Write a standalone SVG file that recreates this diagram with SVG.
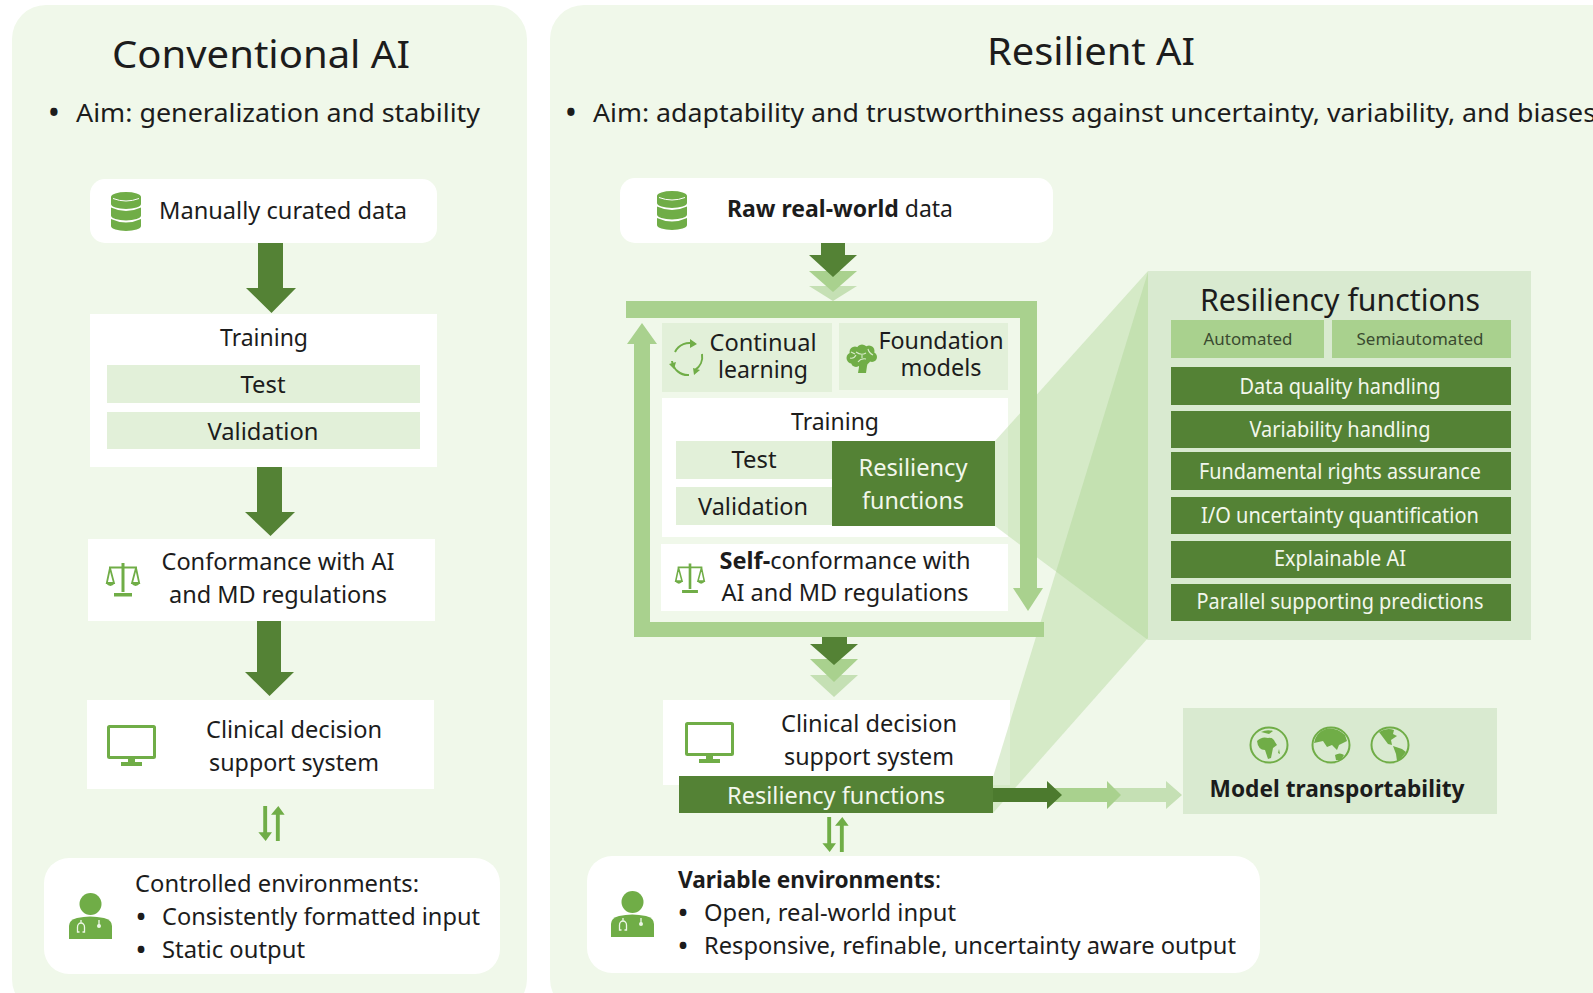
<svg xmlns="http://www.w3.org/2000/svg" width="1593" height="993" viewBox="0 0 1593 993">
<style>
text{font-family:"Noto Sans","Open Sans","Liberation Sans",sans-serif;fill:#1c1c1c;font-size:24px;text-anchor:middle}
.s{text-anchor:start}
.h{font-size:38px}
.aim{font-size:26px;text-anchor:start}
.bu{font-weight:700;text-anchor:middle}
.w{fill:#f2f7ec}
.f{fill:#f2f7ec;font-size:21px}
.sm{font-size:17px;fill:#3a4a30}
.b{font-weight:700}
.panel{fill:#f0f8ea}
.white{fill:#fff}
.pale{fill:#e2f0d9}
.box{fill:#d9ead0}
.mid{fill:#a9d18e}
.lite{fill:#c5e0b4}
.dark{fill:#548235}
.icon{fill:#70ad47}
.ln{fill:none;stroke:#70ad47}
</style>
<defs>
<symbol id="db" viewBox="0 0 30 39" overflow="visible"><path class="icon" d="M0 5a15 5 0 0 1 30 0v7a15 5 0 0 1-30 0zM0 15.500q15 7 30 0v8a15 5 0 0 1-30 0zM0 27q15 7 30 0v7a15 5 0 0 1-30 0z"/><path d="M2 6.500q13 5 26 0" fill="none" stroke="#fff" stroke-width="1"/></symbol>
<symbol id="scale" viewBox="0 0 34 35" overflow="visible"><path class="icon" d="M15.500 1h3v29h-3zM8 31h18v3.500H8zM3 4.500h28v2H3z"/><path class="ln" stroke-width="1.800" d="M4 6 0.800 21h7.200zM30 6 26 21h7.200zM0.800 21q3.600 4 7.200 0M26 21q3.600 4 7.200 0"/></symbol>
<symbol id="monitor" viewBox="0 0 49 41" overflow="visible"><rect class="ln" x="1.500" y="1.500" width="46" height="31" rx="1" stroke-width="3"/><path class="icon" d="M21 33h7v4h-7zM14 37h21v4H14z"/></symbol>
<symbol id="doc" viewBox="0 0 43 46" overflow="visible"><circle class="icon" cx="21.500" cy="11" r="11"/><path class="icon" d="M0 46V33q0-6 8-8 13-3 27 0 8 2 8 8v13z"/><path d="M12 27v3a3.500 4 0 0 0-3.500 4v5h2M12 30a3.500 4 0 0 1 3.500 4v5h-2M30 27v5" fill="none" stroke="#eef7e8" stroke-width="1.300"/><circle cx="30" cy="33" r="2" fill="#eef7e8"/></symbol>
<symbol id="g1" viewBox="0 0 40 38" overflow="visible"><ellipse class="ln" cx="20" cy="19" rx="18.500" ry="17.500" stroke-width="2"/><path class="icon" d="M8 15q5-5 11-3 5-1 7 4l2 3-4 3-2 10-3 1-3-9q-7 0-8-9zM12 6q6-3 12-1l-4 3zM29 27l1-4 1 5z"/></symbol>
<symbol id="g2" viewBox="0 0 40 38" overflow="visible"><ellipse class="ln" cx="20" cy="19" rx="18.500" ry="17.500" stroke-width="2"/><path class="icon" d="M3 17Q5 6 15 3q10-2 19 6l2 6-8 4-2 5-5-5-5 2-4-6zM24 29q5-3 9 0l-3 5h-5z"/></symbol>
<symbol id="g3" viewBox="0 0 40 38" overflow="visible"><ellipse class="ln" cx="20" cy="19" rx="18.500" ry="17.500" stroke-width="2"/><path class="icon" d="M9 6q8-5 15-2l-1 4 4 2-6 4 1 5-4-1-3-4zM23 20l9 3 4 3-6 8-3 1-1-7z"/></symbol>
<symbol id="updown" viewBox="0 0 27 36" overflow="visible"><path class="icon" d="M5 0h4v27h5l-6.500 9L0 27h5zM18 36h4V9h5l-6.500-9L13 9h5z"/></symbol>
</defs>

<rect class="panel" x="12" y="5" width="515" height="1008" rx="34"/>
<rect class="panel" x="550" y="5" width="1100" height="1008" rx="34"/>

<g id="titles">
<text class="h" x="261" y="68" textLength="298" lengthAdjust="spacingAndGlyphs">Conventional AI</text>
<text class="h" x="1091" y="65" textLength="208" lengthAdjust="spacingAndGlyphs">Resilient AI</text>
<text class="bu" style="font-size:26px" x="54" y="122">•</text>
<text class="aim" x="76" y="122" textLength="404" lengthAdjust="spacingAndGlyphs">Aim: generalization and stability</text>
<text class="bu" style="font-size:26px" x="571" y="122">•</text>
<text class="aim" x="593" y="122" textLength="1003" lengthAdjust="spacingAndGlyphs">Aim: adaptability and trustworthiness against uncertainty, variability, and biases</text>
</g>

<g id="conv-data"><rect class="white" x="90" y="179" width="347" height="64" rx="15"/><use href="#db" x="111" y="192" width="30" height="39"/><text class="s" x="159" y="219" textLength="248" lengthAdjust="spacingAndGlyphs">Manually curated data</text></g>
<g id="conv-training"><rect class="white" x="90" y="314" width="347" height="153"/><rect class="pale" x="107" y="365" width="313" height="38"/><rect class="pale" x="107" y="412" width="313" height="37"/>
<text x="264" y="346" textLength="88" lengthAdjust="spacingAndGlyphs">Training</text><text x="263" y="393" textLength="45" lengthAdjust="spacingAndGlyphs">Test</text><text x="263" y="440" textLength="111" lengthAdjust="spacingAndGlyphs">Validation</text></g>
<g id="conv-conformance"><rect class="white" x="88" y="539" width="347" height="82"/><use href="#scale" x="106" y="562" width="34" height="35"/><text x="278" y="570" textLength="233" lengthAdjust="spacingAndGlyphs">Conformance with AI</text><text x="278" y="603" textLength="218" lengthAdjust="spacingAndGlyphs">and MD regulations</text></g>
<g id="conv-cdss"><rect class="white" x="87" y="700" width="347" height="89"/><use href="#monitor" x="107" y="725" width="49" height="41"/><text x="294" y="738" textLength="176" lengthAdjust="spacingAndGlyphs">Clinical decision</text><text x="294" y="771" textLength="170" lengthAdjust="spacingAndGlyphs">support system</text></g>
<g id="conv-env"><rect class="white" x="44" y="858" width="456" height="116" rx="25"/><use href="#doc" x="69" y="893" width="43" height="46"/>
<text class="s" x="135" y="892" textLength="284" lengthAdjust="spacingAndGlyphs">Controlled environments:</text>
<text class="bu" x="141" y="925">•</text><text class="s" x="162" y="925" textLength="318" lengthAdjust="spacingAndGlyphs">Consistently formatted input</text>
<text class="bu" x="141" y="958">•</text><text class="s" x="162" y="958" textLength="143" lengthAdjust="spacingAndGlyphs">Static output</text></g>

<g id="res-data"><rect class="white" x="620" y="178" width="433" height="65" rx="15"/><use href="#db" x="657" y="191" width="30" height="39"/><text class="s" x="727" y="217" textLength="226" lengthAdjust="spacingAndGlyphs"><tspan class="b">Raw real-world</tspan> data</text></g>
<g id="res-training-bg"><rect class="white" x="662" y="398" width="346" height="139"/></g>
<g id="res-cdss-bg"><rect class="white" x="663" y="700" width="347" height="85"/></g>
<g id="wedges"><path d="M995 441 1148 271V640L995 526z" fill="#a9d18e" opacity=".38"/><path d="M993 777 1148 272V638L993 813z" fill="#a9d18e" opacity=".38"/></g>
<g id="res-continual"><rect class="pale" x="662" y="323" width="170" height="69"/>
<path class="ln" stroke-width="2" d="M675 352a16 16 0 0 1 20-8M702 354a16 16 0 0 1-7 16M689 375a16 16 0 0 1-17-14"/><path class="icon" d="M690 339l7 5-7 4zM700 370l-7-2 1 7zM669 364l7-2-2 7z"/>
<text x="763" y="351" textLength="107" lengthAdjust="spacingAndGlyphs">Continual</text><text x="763" y="378" textLength="90" lengthAdjust="spacingAndGlyphs">learning</text></g>
<g id="res-foundation"><rect class="pale" x="839" y="323" width="169" height="67"/>
<g class="icon"><circle cx="852" cy="358" r="5.500"/><circle cx="855" cy="352" r="5.500"/><circle cx="862" cy="350" r="5.500"/><circle cx="869" cy="351" r="5.500"/><circle cx="872" cy="357" r="5"/><circle cx="864" cy="358" r="7"/><circle cx="856" cy="362" r="5"/><path d="M859 362h9l-1 4-1 7h-8l1-6z"/></g>
<path d="M850 358q4 1 6-3M856 352q5 4 10 1M858 362q3-4 8-3M868 349q1 4 5 6M862 355v3M851 352l4 2" fill="none" stroke="#d8ebcb" stroke-width="1.100"/>
<text x="941" y="349" textLength="125" lengthAdjust="spacingAndGlyphs">Foundation</text><text x="941" y="376" textLength="81" lengthAdjust="spacingAndGlyphs">models</text></g>
<g id="res-training"><rect class="pale" x="676" y="441" width="156" height="38"/><rect class="pale" x="676" y="487" width="156" height="38"/><rect class="dark" x="832" y="441" width="163" height="85"/>
<text x="835" y="430" textLength="88" lengthAdjust="spacingAndGlyphs">Training</text><text x="754" y="468" textLength="45" lengthAdjust="spacingAndGlyphs">Test</text><text x="753" y="515" textLength="110" lengthAdjust="spacingAndGlyphs">Validation</text>
<text class="w" x="913" y="476" textLength="109" lengthAdjust="spacingAndGlyphs">Resiliency</text><text class="w" x="913" y="509" textLength="102" lengthAdjust="spacingAndGlyphs">functions</text></g>
<g id="res-conformance"><rect class="white" x="661" y="544" width="347" height="67"/><use href="#scale" x="675" y="562" width="30" height="32"/>
<text x="845" y="569" textLength="251" lengthAdjust="spacingAndGlyphs"><tspan class="b">Self-</tspan>conformance with</text><text x="845" y="601" textLength="247" lengthAdjust="spacingAndGlyphs">AI and MD regulations</text></g>
<g id="res-cdss"><use href="#monitor" x="685" y="722" width="49" height="41"/><text x="869" y="732" textLength="176" lengthAdjust="spacingAndGlyphs">Clinical decision</text><text x="869" y="765" textLength="170" lengthAdjust="spacingAndGlyphs">support system</text>
<rect class="dark" x="679" y="776" width="314" height="37"/><text class="w" x="836" y="804" textLength="218" lengthAdjust="spacingAndGlyphs">Resiliency functions</text></g>
<g id="res-env"><rect class="white" x="587" y="856" width="673" height="117" rx="25"/><use href="#doc" x="611" y="891" width="43" height="46"/>
<text class="s" x="678" y="888" textLength="263" lengthAdjust="spacingAndGlyphs"><tspan class="b">Variable environments</tspan>:</text>
<text class="bu" x="683" y="921">•</text><text class="s" x="704" y="921" textLength="252" lengthAdjust="spacingAndGlyphs">Open, real-world input</text>
<text class="bu" x="683" y="954">•</text><text class="s" x="704" y="954" textLength="532" lengthAdjust="spacingAndGlyphs">Responsive, refinable, uncertainty aware output</text></g>

<g id="res-functions"><rect class="box" x="1148" y="271" width="383" height="369"/>
<text x="1340" y="311" style="font-size:31px" textLength="280" lengthAdjust="spacingAndGlyphs">Resiliency functions</text>
<rect class="mid" x="1171" y="320" width="153" height="38"/><rect class="mid" x="1332" y="320" width="179" height="38"/>
<text class="sm" x="1248" y="345" textLength="89" lengthAdjust="spacingAndGlyphs">Automated</text><text class="sm" x="1420" y="345" textLength="127" lengthAdjust="spacingAndGlyphs">Semiautomated</text>
<rect class="dark" x="1171" y="367" width="340" height="38"/><text class="f" x="1340" y="394" textLength="201" lengthAdjust="spacingAndGlyphs">Data quality handling</text>
<rect class="dark" x="1171" y="411" width="340" height="37"/><text class="f" x="1340" y="437" textLength="181" lengthAdjust="spacingAndGlyphs">Variability handling</text>
<rect class="dark" x="1171" y="452" width="340" height="38"/><text class="f" x="1340" y="479" textLength="282" lengthAdjust="spacingAndGlyphs">Fundamental rights assurance</text>
<rect class="dark" x="1171" y="497" width="340" height="37"/><text class="f" x="1340" y="523" textLength="278" lengthAdjust="spacingAndGlyphs">I/O uncertainty quantification</text>
<rect class="dark" x="1171" y="541" width="340" height="37"/><text class="f" x="1340" y="566" textLength="132" lengthAdjust="spacingAndGlyphs">Explainable AI</text>
<rect class="dark" x="1171" y="584" width="340" height="37"/><text class="f" x="1340" y="609" textLength="287" lengthAdjust="spacingAndGlyphs">Parallel supporting predictions</text></g>

<g id="res-transport"><rect class="box" x="1183" y="708" width="314" height="106"/>
<use href="#g1" x="1249" y="726" width="40" height="38"/><use href="#g2" x="1311" y="726" width="40" height="38"/><use href="#g3" x="1370" y="726" width="40" height="38"/>
<text class="b" x="1337" y="797" textLength="255" lengthAdjust="spacingAndGlyphs">Model transportability</text></g>

<g id="connectors">
<path class="dark" d="M258 243h25v45h13l-24.500 25L246 288h12z"/>
<path class="dark" d="M257 467h25v45h13l-24.500 24L245 512h12z"/>
<path class="dark" d="M257 621h24v51h13l-24.500 24L245 672h12z"/>
<use href="#updown" x="258" y="806" width="27" height="35"/>
<path class="lite" d="M809 286h48l-24 15z"/><path class="mid" d="M809 271h48l-24 21z"/>
<path class="dark" d="M821 243h24v12h12l-24 22-24-22h12z"/>
<path class="mid" d="M626 301h411v287h6l-15 23-15-23h7V318H626z"/>
<path class="mid" d="M634 637V344h-7l15-21 15 21h-7v278h394v15z"/>
<path class="lite" d="M810 675h48l-24 22z"/><path class="mid" d="M810 659h48l-24 23z"/>
<path class="dark" d="M822 637h25v7h11l-24 21-24-21h12z"/>
<use href="#updown" x="822" y="817" width="27" height="35"/>
<path class="lite" d="M1110 788h56v-7l16 14-16 14v-7h-56z"/>
<path class="mid" d="M1050 788h57v-7l14 14-14 14v-7h-57z"/>
<path d="M993 788h54v-7l15 14-15 14v-7h-54z" fill="#4c7a2e"/>
</g>
</svg>
